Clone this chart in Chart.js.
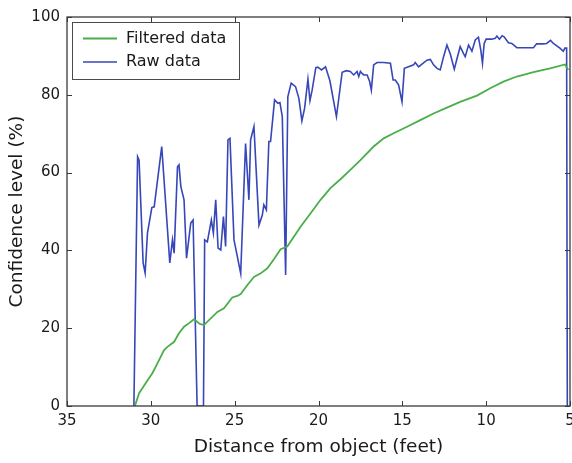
<!DOCTYPE html>
<html>
<head>
<meta charset="utf-8">
<script src="https://cdn.jsdelivr.net/npm/chart.js@4.4.1/dist/chart.umd.min.js"></script>
<style>
  html, body { margin: 0; padding: 0; background: #ffffff; }
  #wrap { width: 572px; height: 463px; position: relative; }
</style>
</head>
<body>
<div id="wrap"><canvas id="c" width="572" height="463"></canvas></div>
<script>
// ---- Data ----
const rawDistance = [31.01, 30.79, 30.70, 30.46, 30.34, 30.20, 29.94, 29.80, 29.35, 28.87, 28.71, 28.61, 28.41, 28.32, 28.21, 28.02, 27.87, 27.62, 27.48, 27.24, 26.86, 26.79, 26.63, 26.39, 26.27, 26.13, 25.99, 25.83, 25.67, 25.54, 25.40, 25.28, 25.04, 24.84, 24.64, 24.35, 24.15, 24.05, 23.85, 23.55, 23.35, 23.26, 23.11, 22.96, 22.86, 22.62, 22.42, 22.30, 22.16, 21.96, 21.83, 21.63, 21.37, 21.17, 20.99, 20.83, 20.63, 20.51, 20.38, 20.16, 20.04, 19.82, 19.58, 19.32, 18.93, 18.59, 18.33, 18.10, 17.90, 17.70, 17.60, 17.50, 17.40, 17.30, 17.10, 16.95, 16.85, 16.71, 16.51, 16.11, 15.71, 15.55, 15.42, 15.22, 15.02, 14.88, 14.63, 14.33, 14.23, 14.03, 13.83, 13.53, 13.33, 13.14, 12.93, 12.74, 12.54, 12.34, 12.14, 11.90, 11.71, 11.55, 11.35, 11.25, 11.05, 10.85, 10.65, 10.46, 10.32, 10.22, 10.12, 10.00, 9.66, 9.46, 9.36, 9.21, 9.05, 8.93, 8.67, 8.47, 8.17, 7.18, 6.99, 6.61, 6.39, 6.16, 5.99, 5.79, 5.60, 5.40, 5.30, 5.20, 5.16];
const rawConfidence = [0, 64.1, 63.2, 36.8, 34.2, 44.5, 51.0, 51.2, 66.7, 36.8, 42.7, 39.3, 61.5, 62.0, 56.4, 53.0, 38.0, 47.0, 47.8, 0, 0, 42.7, 42.2, 47.8, 44.5, 53.0, 40.6, 40.1, 48.7, 41.0, 68.4, 68.8, 42.7, 38.4, 34.1, 67.5, 53.0, 68.4, 71.8, 46.5, 49.1, 51.7, 50.4, 68.0, 68.0, 78.7, 77.8, 78.0, 74.4, 33.7, 79.5, 83.0, 82.1, 79.1, 73.3, 76.5, 84.0, 78.5, 81.2, 87.0, 87.1, 86.4, 87.2, 83.6, 74.4, 85.8, 86.2, 86.0, 85.1, 86.0, 84.7, 86.0, 85.5, 85.1, 85.1, 83.4, 81.2, 87.7, 88.3, 88.3, 88.1, 83.8, 83.8, 82.5, 78.2, 86.8, 87.2, 87.7, 88.3, 87.2, 87.9, 88.9, 89.1, 87.7, 86.8, 86.4, 89.8, 92.8, 90.5, 86.6, 89.8, 92.4, 90.6, 89.8, 92.8, 91.2, 94.1, 94.8, 91.5, 88.1, 93.2, 94.3, 94.3, 94.5, 95.1, 94.3, 95.2, 94.9, 93.4, 93.2, 92.1, 92.1, 93.1, 93.1, 93.2, 94.0, 93.2, 92.6, 92.0, 91.2, 92.0, 92.0, 0];

const filteredDistance = [30.95, 30.70, 30.30, 29.90, 29.51, 29.21, 29.01, 28.61, 28.32, 28.02, 27.72, 27.42, 27.08, 26.83, 26.03, 25.64, 25.14, 24.84, 24.64, 24.24, 23.85, 23.45, 23.05, 22.66, 22.26, 21.86, 21.47, 21.07, 20.48, 19.88, 19.29, 18.69, 18.10, 17.50, 16.71, 16.11, 15.52, 14.72, 13.93, 13.14, 12.34, 11.55, 10.55, 9.76, 8.97, 8.17, 7.18, 6.19, 5.30, 5.10];
const filteredConfidence = [0, 3.3, 5.9, 8.5, 11.8, 14.4, 15.2, 16.5, 18.7, 20.4, 21.3, 22.3, 21.1, 20.8, 24.2, 25.1, 27.9, 28.3, 28.8, 31.1, 33.2, 34.1, 35.4, 37.7, 40.3, 41.0, 43.5, 46.1, 49.5, 53.0, 56.0, 58.3, 60.7, 63.2, 66.7, 68.8, 70.1, 71.8, 73.5, 75.2, 76.7, 78.2, 79.8, 81.7, 83.4, 84.7, 85.8, 86.8, 87.8, 86.4];

const xTickValues = [35, 30, 25, 20, 15, 10, 5];
const yTickValues = [0, 20, 40, 60, 80, 100];
const seriesLabels = ['Filtered data', 'Raw data'];
const xTitle = 'Distance from object (feet)';
const yTitle = 'Confidence level (%)';

// ---- Build chart ----
const toPoints = (xs, ys) => xs.map((x, i) => ({ x: x, y: ys[i] }));
const FONT = 'DejaVu Sans';
const TXT = '#1a1a1a';
const FRAME = '#3a3a3a';

const framePlugin = {
  id: 'frameTicks',
  afterDraw(chart) {
    const { ctx, chartArea: a, scales: { x, y } } = chart;
    ctx.save();
    ctx.strokeStyle = FRAME;
    ctx.lineWidth = 1.3;
    ctx.strokeRect(a.left, a.top, a.right - a.left, a.bottom - a.top);
    ctx.lineWidth = 1;
    const L = 5;
    ctx.beginPath();
    xTickValues.forEach(v => {
      const p = Math.round(x.getPixelForValue(v)) + 0.5;
      ctx.moveTo(p, a.bottom); ctx.lineTo(p, a.bottom - L);
      ctx.moveTo(p, a.top); ctx.lineTo(p, a.top + L);
    });
    yTickValues.forEach(v => {
      const p = Math.round(y.getPixelForValue(v)) + 0.5;
      ctx.moveTo(a.left, p); ctx.lineTo(a.left + L, p);
      ctx.moveTo(a.right, p); ctx.lineTo(a.right - L, p);
    });
    ctx.stroke();

    // legend box
    const bx = 72, by = 22, bw = 167, bh = 57;
    ctx.fillStyle = '#ffffff';
    ctx.fillRect(bx, by, bw, bh);
    ctx.strokeStyle = '#4a4a4a';
    ctx.lineWidth = 1;
    ctx.strokeRect(bx + 0.5, by + 0.5, bw, bh);
    ctx.font = '16px "' + FONT + '"';
    ctx.textBaseline = 'middle';
    ctx.textAlign = 'left';
    chart.data.datasets.forEach((ds, i) => {
      const cy = by + 16.5 + i * 23.5;
      ctx.strokeStyle = ds.borderColor;
      ctx.lineWidth = ds.borderWidth;
      ctx.beginPath();
      ctx.moveTo(bx + 11, cy); ctx.lineTo(bx + 45, cy);
      ctx.stroke();
      ctx.fillStyle = TXT;
      ctx.fillText(ds.label, bx + 54, cy);
    });
    ctx.restore();
  }
};

new Chart(document.getElementById('c'), {
  type: 'line',
  data: {
    datasets: [
      {
        label: seriesLabels[0],
        data: toPoints(filteredDistance, filteredConfidence),
        borderColor: '#4aae4a',
        borderWidth: 1.8,
        pointRadius: 0,
        tension: 0,
        fill: false
      },
      {
        label: seriesLabels[1],
        data: toPoints(rawDistance, rawConfidence),
        borderColor: '#3746b8',
        borderWidth: 1.6,
        pointRadius: 0,
        tension: 0,
        fill: false
      }
    ]
  },
  options: {
    responsive: false,
    animation: false,
    devicePixelRatio: 1,
    layout: { padding: { top: 17, right: 2, bottom: 0, left: 0 } },
    plugins: { legend: { display: false }, tooltip: { enabled: false } },
    scales: {
      x: {
        type: 'linear',
        reverse: true,
        min: 5, max: 35,
        afterBuildTicks: s => { s.ticks = xTickValues.map(v => ({ value: v })); },
        afterFit: s => { s.height = 57; s.paddingLeft = 0; s.paddingRight = 0; },
        grid: { display: false, drawTicks: false },
        border: { display: false },
        ticks: { padding: 6, color: TXT, font: { family: FONT, size: 15 }, maxRotation: 0, autoSkip: false },
        title: { display: true, text: xTitle, color: TXT, font: { family: FONT, size: 18.5 }, padding: { top: 0, bottom: 5 } }
      },
      y: {
        type: 'linear',
        min: 0, max: 100,
        afterBuildTicks: s => { s.ticks = yTickValues.map(v => ({ value: v })); },
        afterFit: s => { s.width = 67; s.paddingTop = 0; s.paddingBottom = 0; },
        grid: { display: false, drawTicks: false },
        border: { display: false },
        ticks: { padding: 7, color: TXT, font: { family: FONT, size: 15 }, autoSkip: false },
        title: { display: true, text: yTitle, color: TXT, font: { family: FONT, size: 18.5 }, padding: { top: 6, bottom: 0 } }
      }
    }
  },
  plugins: [framePlugin]
});
</script>
</body>
</html>
